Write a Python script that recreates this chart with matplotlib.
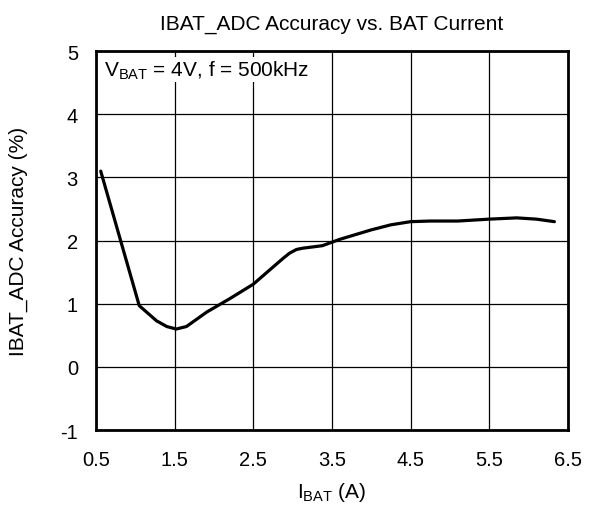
import matplotlib
matplotlib.use("Agg")
import matplotlib.pyplot as plt

plt.rcParams["font.family"] = ["Liberation Sans", "DejaVu Sans"]
plt.rcParams["axes.unicode_minus"] = False

# IBAT (A) vs accuracy (%)
ibat = [0.56, 1.05, 1.27, 1.40, 1.52, 1.65, 1.91, 2.2, 2.5, 2.75, 2.88, 2.96,
        3.05, 3.13, 3.38, 3.6, 4.0, 4.25, 4.5, 4.75, 5.1, 5.5, 5.85, 6.1, 6.33]
accuracy = [3.10, 0.97, 0.73, 0.64, 0.60, 0.64, 0.87, 1.08, 1.31, 1.58, 1.72,
            1.80, 1.86, 1.88, 1.92, 2.02, 2.17, 2.25, 2.30, 2.31, 2.31, 2.34,
            2.36, 2.34, 2.30]
xticks = [0.5, 1.5, 2.5, 3.5, 4.5, 5.5, 6.5]
yticks = [-1, 0, 1, 2, 3, 4, 5]

fig = plt.figure(figsize=(5.89, 5.06), dpi=100)
ax = fig.add_axes([0.163, 0.148, 0.801, 0.749])

ax.plot(ibat, accuracy, color="black", lw=2.3, solid_joinstyle="round",
        solid_capstyle="round")

ax.set_xlim(0.5, 6.5)
ax.set_ylim(-1, 5)
ax.set_xticks(xticks)
ax.set_yticks(yticks)
ax.set_xticklabels([str(t) for t in xticks])
ax.set_yticklabels([str(t) for t in yticks])
ax.tick_params(length=0, labelsize=14.5)
ax.tick_params(axis="x", pad=14)
ax.tick_params(axis="y", pad=13)
ax.grid(True, color="black", lw=0.9)
for s in ax.spines.values():
    s.set_linewidth(2.0)

ax.set_title("IBAT_ADC Accuracy vs. BAT Current", fontsize=15, pad=16)
ax.set_xlabel(r"$\mathregular{I_{BAT}}$ (A)", fontsize=15, labelpad=8)
ax.set_ylabel("IBAT_ADC Accuracy (%)", fontsize=15, labelpad=23)

ax.text(0.6, 4.71, r"$\mathregular{V_{BAT}}$ = 4V, f = 500kHz", fontsize=15,
        va="center", ha="left", zorder=5,
        bbox=dict(facecolor="white", edgecolor="none", pad=1))

fig.savefig("out.png", dpi=100)
